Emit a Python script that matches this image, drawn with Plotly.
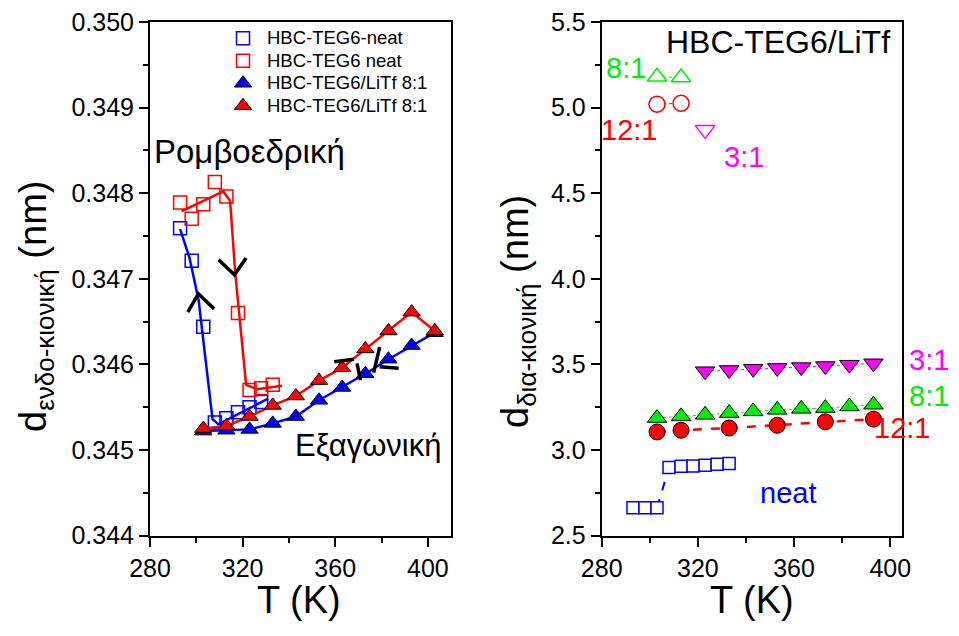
import plotly.graph_objects as go

# ---------------- Left panel data ----------------
T_neat_blue = [293, 298, 303, 308, 313, 318, 323, 328]
d_neat_blue = [0.34759, 0.34721, 0.34644, 0.34532, 0.34537, 0.34544, 0.34550, 0.34556]
T_neat_red = [293, 298, 303, 308, 313, 318, 323, 328, 333]
d_neat_red = [0.34789, 0.34770, 0.34787, 0.34813, 0.34796, 0.34660, 0.34570, 0.34572, 0.34576]
T_litf = [303, 313, 323, 333, 343, 353, 363, 373, 383, 393, 403]
d_litf_blue = [0.34522, 0.34523, 0.34524, 0.34531, 0.34539, 0.34558, 0.34573, 0.34589, 0.34606, 0.34622, 0.34637]
d_litf_red = [0.34525, 0.34528, 0.34539, 0.34552, 0.34563, 0.34581, 0.34596, 0.34618, 0.34639, 0.34661, 0.34639]
# guide lines through the neat data
fit_blue_T = [293, 297, 301, 305, 307, 309.5, 331]
fit_blue_d = [0.34758, 0.34725, 0.34675, 0.34580, 0.34536, 0.34530, 0.34560]
fit_red_T = [293.7, 311.7, 314.6, 316.8, 321.5, 326.2, 337]
fit_red_d = [0.34779, 0.34802, 0.34791, 0.34707, 0.34576, 0.34571, 0.34575]

# ---------------- Right panel data ----------------
T_r_neat = [293, 298, 303, 308, 313, 318, 323, 328, 333]
d_r_neat = [2.662, 2.662, 2.662, 2.897, 2.904, 2.906, 2.910, 2.916, 2.920]
T_81 = [303, 313, 323, 333, 343, 353, 363, 373, 383, 393]
d_81 = [3.186, 3.196, 3.205, 3.215, 3.225, 3.234, 3.240, 3.244, 3.254, 3.264]
T_121 = [303, 313, 333, 353, 373, 393]
d_121 = [3.105, 3.115, 3.128, 3.144, 3.164, 3.180]
T_31 = [323, 333, 343, 353, 363, 373, 383, 393]
d_31 = [3.460, 3.467, 3.474, 3.479, 3.484, 3.490, 3.498, 3.506]
T_81_col = [303, 313]
d_81_col = [5.180, 5.176]
T_121_col = [303, 313]
d_121_col = [5.020, 5.025]
T_31_col = [323]
d_31_col = [4.870]

legend_names = ["HBC-TEG6-neat", "HBC-TEG6 neat", "HBC-TEG6/LiTf 8:1", "HBC-TEG6/LiTf 8:1"]

BLUE = "#0000ff"
RED = "#ff0000"
GREEN = "#00ee00"
MAG = "#ff00ff"
FONT = "Liberation Sans, Arial, sans-serif"

# the page body adds an 8 px margin, so the figure is sized to fit the window
OFF = 8
W, H = 951, 628
def PX(px):
    return (px - OFF) / W
def PY(py):
    return 1 - (py - OFF) / H

fig = go.Figure()

def line(x, y, color, width, dash="solid", ax="x", ay="y"):
    fig.add_trace(go.Scatter(x=x, y=y, mode="lines", line=dict(color=color, width=width, dash=dash),
                             showlegend=False, hoverinfo="skip", xaxis=ax, yaxis=ay))

def pts(x, y, symbol, size, color, edge, edgew, name=None, ax="x", ay="y"):
    label = None if name is None else f"<span style='font-size:18.5px'>{name}</span>"
    fig.add_trace(go.Scatter(x=x, y=y, mode="markers", name=label, showlegend=name is not None,
                             marker=dict(symbol=symbol, size=size, color=color,
                                         line=dict(color=edge, width=edgew)),
                             xaxis=ax, yaxis=ay))

# ---- left panel ----
line(fit_blue_T, fit_blue_d, BLUE, 2.5)
line(fit_red_T, fit_red_d, RED, 2.5)
pts(T_neat_blue, d_neat_blue, "square-open", 13, BLUE, BLUE, 1.5, legend_names[0])
pts(T_neat_red, d_neat_red, "square-open", 13, RED, RED, 1.5, legend_names[1])
line(T_litf, d_litf_blue, BLUE, 2.5)
pts(T_litf, d_litf_blue, "triangle-up", 15, BLUE, "black", 1, legend_names[2])
line(T_litf, d_litf_red, RED, 2.5)
pts(T_litf, d_litf_red, "triangle-up", 15, RED, "black", 1, legend_names[3])

# ---- right panel ----
line(T_r_neat[2:4], d_r_neat[2:4], BLUE, 2, "dash", "x2", "y2")
pts(T_r_neat, d_r_neat, "square", 12, "white", BLUE, 1.5, None, "x2", "y2")
line(T_31, d_31, MAG, 1, "dot", "x2", "y2")
pts(T_31, d_31, "triangle-down", 17, MAG, "black", 1, None, "x2", "y2")
line(T_81, d_81, GREEN, 1, "dot", "x2", "y2")
pts(T_81, d_81, "triangle-up", 17, GREEN, "black", 1, None, "x2", "y2")
line(T_121, d_121, RED, 2.5, "dash", "x2", "y2")
pts(T_121, d_121, "circle", 16, RED, "black", 1, None, "x2", "y2")
line(T_81_col, d_81_col, GREEN, 1, "dot", "x2", "y2")
pts(T_81_col, d_81_col, "triangle-up", 17, "white", GREEN, 1.5, None, "x2", "y2")
line(T_121_col, d_121_col, RED, 1, "dot", "x2", "y2")
pts(T_121_col, d_121_col, "circle", 16, "white", RED, 1.5, None, "x2", "y2")
pts(T_31_col, d_31_col, "triangle-down", 17, "white", MAG, 1.5, None, "x2", "y2")

minor_x = dict(ticks="outside", ticklen=5, tickwidth=2, tickcolor="black", dtick=20)
axis_common = dict(showline=True, linecolor="black", linewidth=2, mirror=True, ticks="outside",
                   ticklen=9, tickwidth=2, tickcolor="black", showgrid=False, zeroline=False,
                   automargin=False, ticklabeloverflow="allow",
                   tickfont=dict(family=FONT, size=25, color="black"))

Y0 = PY(535.5)
Y1 = PY(22)

fig.update_layout(
    width=W, height=H, margin=dict(l=0, r=0, t=0, b=0, autoexpand=False),
    paper_bgcolor="white", plot_bgcolor="white",
    font=dict(family=FONT, color="black"),
    xaxis=dict(domain=[PX(150), PX(451)], range=[280, 410], dtick=40, tick0=280,
               minor=minor_x, anchor="y", **axis_common),
    yaxis=dict(domain=[Y0, Y1], range=[0.344, 0.350], dtick=0.001, tickformat=".3f",
               minor=dict(ticks="outside", ticklen=5, tickwidth=2, tickcolor="black", dtick=0.0005),
               anchor="x", **axis_common),
    xaxis2=dict(domain=[PX(601.7), PX(902.3)], range=[280, 405], dtick=40, tick0=280,
                minor=minor_x, anchor="y2", **axis_common),
    yaxis2=dict(domain=[Y0, Y1], range=[2.5, 5.5], dtick=0.5, tickformat=".1f",
                minor=dict(ticks="outside", ticklen=5, tickwidth=2, tickcolor="black", dtick=0.25),
                anchor="x2", **axis_common),
    legend=dict(x=PX(219), y=PY(22), xanchor="left", yanchor="top", bgcolor="rgba(0,0,0,0)",
                font=dict(family=FONT, size=15, color="black"), tracegroupgap=0, itemwidth=38),
    showlegend=True,
)

def ann(text, x, y, size, color="black", xanchor="center", angle=0):
    fig.add_annotation(text=text, x=PX(x), y=PY(y), xref="paper", yref="paper", showarrow=False,
                       xanchor=xanchor, yanchor="middle", textangle=angle,
                       font=dict(family=FONT, size=size, color=color))

# axis titles
ann("d<sub><span style='font-size:26px'>ενδο-κιονική</span></sub> (nm)", 36, 307, 38, angle=-90)
ann("d<sub><span style='font-size:26px'>δια-κιονική</span></sub> (nm)", 518, 312, 38, angle=-90)
ann("T (K)", 299, 600, 38)
ann("T (K)", 752, 600, 38)

# left panel texts
ann("Ρομβοεδρική", 152, 152, 33, xanchor="left")
ann("Εξαγωνική", 443, 445, 31, xanchor="right")

# right panel texts
ann("HBC-TEG6/LiTf", 892, 42, 32, xanchor="right")
ann("8:1", 626, 68, 29, color=GREEN)
ann("12:1", 629, 130, 29, color=RED)
ann("3:1", 744, 157, 29, color=MAG)
ann("3:1", 929, 360, 29, color=MAG)
ann("8:1", 929, 396, 29, color=GREEN)
ann("12:1", 902, 428, 29, color=RED)
ann("neat", 788, 493, 29, color=BLUE)

# black arrow heads on the left panel (direction of heating / cooling)
arrow_paths = [
    [(296.3, 0.346610), (300.9, 0.346824), (307.7, 0.346648)],
    [(309.6, 0.347223), (316.5, 0.347047), (321.5, 0.347243)],
    [(359.6, 0.346031), (368.0, 0.346059)],
    [(369.4, 0.346012), (370.9, 0.345816)],
    [(376.6, 0.345902), (379.2, 0.346200)],
    [(379.2, 0.345972), (387.4, 0.345953)],
]
for p in arrow_paths:
    path = "M " + " L ".join(f"{x},{y}" for x, y in p)
    fig.add_shape(type="path", path=path, xref="x", yref="y", line=dict(color="black", width=3.5))

fig.write_html("out.html")
